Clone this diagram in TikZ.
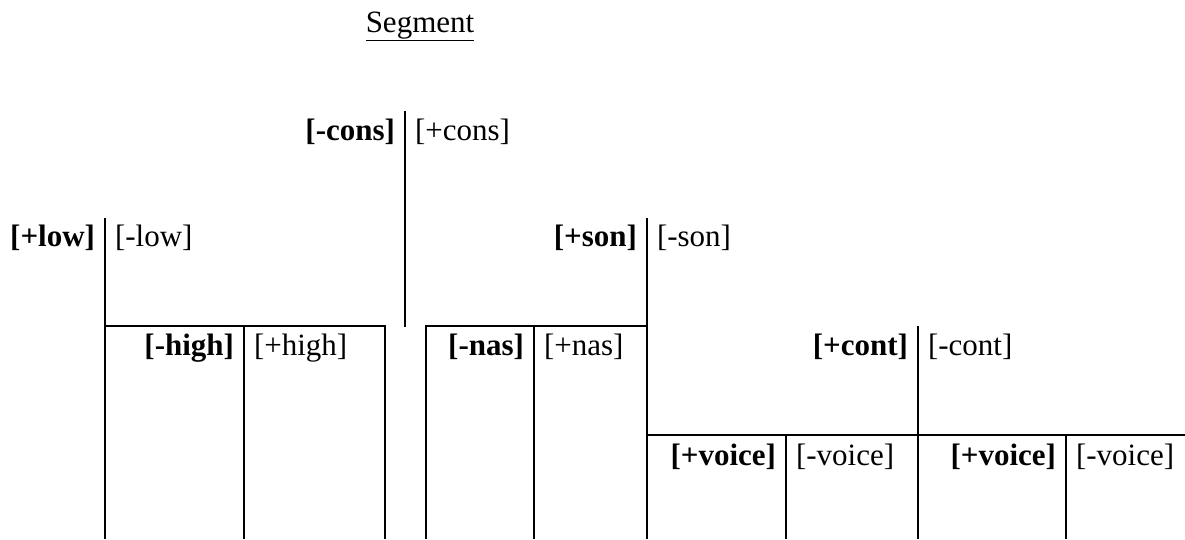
\documentclass[tikz,border=0pt]{standalone}
\usepackage{fontspec}
\setmainfont{Liberation Serif}
\begin{document}
\begin{tikzpicture}[x=1pt,y=-1pt,line width=2pt,
  lab/.style={inner sep=0pt,font=\fontsize{31}{36}\selectfont},
  posf/.style={lab,anchor=base east,font=\fontsize{31}{36}\selectfont\bfseries},
  negf/.style={lab,anchor=base west},
  rule/.style={draw=black,line width=2pt}]
\useasboundingbox (0,0) rectangle (1185,539);
% title
\node[lab,anchor=base] (seg) at (420,32) {\underline{Segment}};
% coordinates
\coordinate (consT) at (405,111); \coordinate (consB) at (405,327);
\coordinate (lowT) at (105,218); \coordinate (lowB) at (105,539);
\coordinate (lowH) at (105,326); \coordinate (hiR) at (385,326); \coordinate (hiRB) at (385,539);
\coordinate (hiT) at (244,326); \coordinate (hiB) at (244,539);
\coordinate (nasLB) at (426,539); \coordinate (nasL) at (426,326); \coordinate (nasR) at (647,326);
\coordinate (nasT) at (534,326); \coordinate (nasB) at (534,539);
\coordinate (sonT) at (647,218); \coordinate (sonB) at (647,539);
\coordinate (contT) at (918,326); \coordinate (contB) at (918,539);
\coordinate (vL) at (647,435); \coordinate (vR) at (1185,435);
\coordinate (v1T) at (786,435); \coordinate (v1B) at (786,539);
\coordinate (v2T) at (1066,435); \coordinate (v2B) at (1066,539);
% lines
\draw[rule] (consT) -- (consB);
\draw[rule] (lowT) -- (lowB);
\draw[rule] (lowH) -- (hiR) -- (hiRB);
\draw[rule] (hiT) -- (hiB);
\draw[rule] (nasLB) -- (nasL) -- (nasR);
\draw[rule] (nasT) -- (nasB);
\draw[rule] (sonT) -- (sonB);
\draw[rule] (contT) -- (contB);
\draw[rule] (vL) -- (vR);
\draw[rule] (v1T) -- (v1B);
\draw[rule] (v2T) -- (v2B);
% labels
\node[posf] (mcons) at (396,140) {[-cons]};
\node[negf] (pcons) at (414,140) {[+cons]};
\node[posf] (plow) at (96,246) {[+low]};
\node[negf] (mlow) at (114,246) {[-low]};
\node[posf] (pson) at (638,246) {[+son]};
\node[negf] (mson) at (656,246) {[-son]};
\node[posf] (mhigh) at (235,355) {[-high]};
\node[negf] (phigh) at (253,355) {[+high]};
\node[posf] (mnas) at (525,355) {[-nas]};
\node[negf] (pnas) at (543,355) {[+nas]};
\node[posf] (pcont) at (909,355) {[+cont]};
\node[negf] (mcont) at (927,355) {[-cont]};
\node[posf] (pv1) at (777,465) {[+voice]};
\node[negf] (mv1) at (795,465) {[-voice]};
\node[posf] (pv2) at (1057,465) {[+voice]};
\node[negf] (mv2) at (1075,465) {[-voice]};
\end{tikzpicture}
\end{document}
